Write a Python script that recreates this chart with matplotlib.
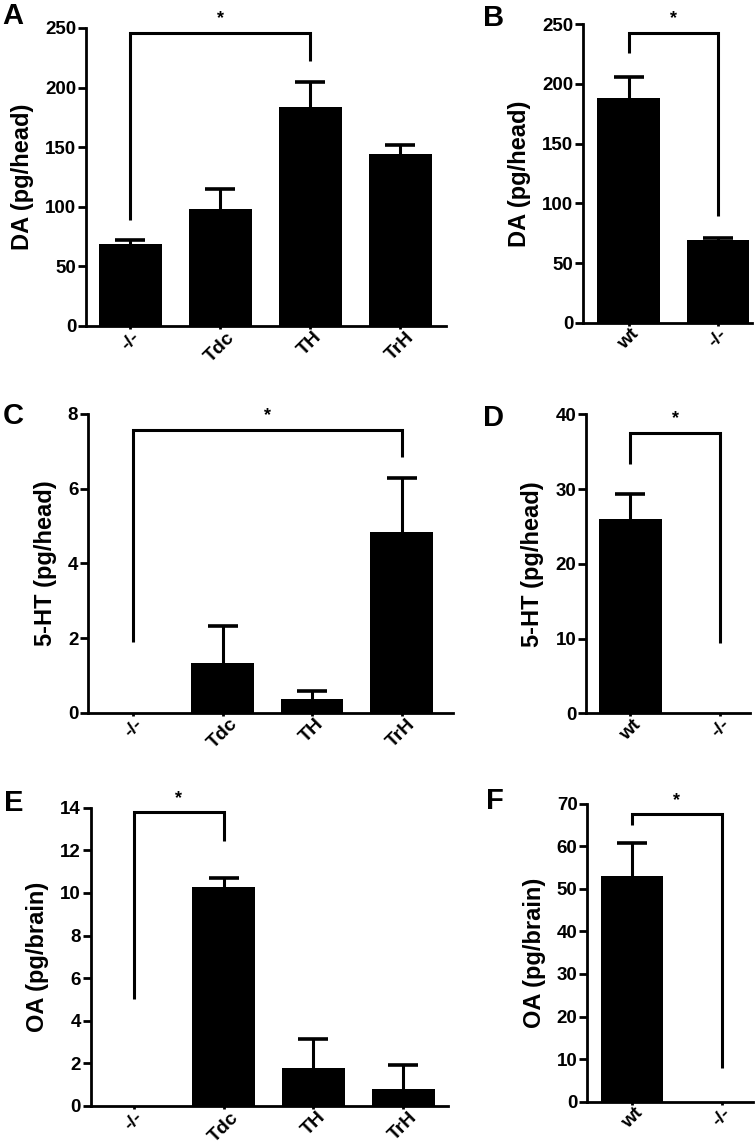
import matplotlib
matplotlib.use("Agg")
import matplotlib.pyplot as plt
import numpy as np

plt.rcParams['font.family'] = ['Liberation Sans', 'DejaVu Sans']
plt.rcParams['font.weight'] = 'bold'
plt.rcParams['axes.labelweight'] = 'bold'

# genotypes
groups4 = ['-/-', 'Tdc', 'TH', 'TrH']
groups2 = ['wt', '-/-']

# A: DA per head, rescue lines
da_groups = [68.5, 98, 184, 144]
da_groups_err = [3.3, 17, 21, 8]
# B: DA per head, wt vs mutant
da_pair = [188, 69]
da_pair_err = [18, 2]
# C: 5-HT per head, rescue lines
ht_groups = [0, 1.32, 0.37, 4.85]
ht_groups_err = [0, 1.01, 0.22, 1.44]
# D: 5-HT per head, wt vs mutant
ht_pair = [26.0, 0]
ht_pair_err = [3.35, 0]
# E: OA per brain, rescue lines
oa_groups = [0, 10.27, 1.77, 0.8]
oa_groups_err = [0, 0.42, 1.39, 1.12]
# F: OA per brain, wt vs mutant
oa_pair = [52.9, 0]
oa_pair_err = [7.9, 0]

# significance brackets: (left idx, right idx, top, left leg end, right leg end)
sig_a = (0, 2, 246, 89, 222)
sig_b = (0, 1, 243, 226, 89)
sig_c = (0, 3, 7.58, 1.9, 6.85)
sig_d = (0, 1, 37.5, 33.3, 9.4)
sig_e = (0, 1, 13.79, 5.02, 12.45)
sig_f = (0, 1, 67.5, 65, 7.8)

W, H = 756, 1148


def panel(fig, rect_px, xlim, labels, vals, errs, ymax, ystep, ylabel, sig, letter, letter_xy):
    x0, x1, ybot, ytop = rect_px
    ax = fig.add_axes([x0 / W, 1 - ybot / H, (x1 - x0) / W, (ybot - ytop) / H])
    x = np.arange(len(labels))
    vals = np.array(vals, dtype=float)
    errs = np.array(errs, dtype=float)
    ax.bar(x, vals, width=0.7, color='black', zorder=2)
    # upper error bars only
    has = errs > 0
    ax.vlines(x[has], vals[has], vals[has] + errs[has], color='black', lw=2.2, zorder=1)
    ax.plot(x[has], vals[has] + errs[has], ls='none', marker='_', ms=21, mew=2.6,
            color='black', zorder=1)
    ax.set_xlim(*xlim)
    ax.set_ylim(0, ymax)
    ax.set_yticks(np.arange(0, ymax + ystep / 2, ystep))
    ax.set_xticks(x)
    ax.set_xticklabels(labels, rotation=45, ha='center', fontsize=14)
    ax.tick_params(axis='y', length=6, width=2, labelsize=13.5, pad=1)
    ax.tick_params(axis='x', length=2, width=2, pad=0)
    for s in ['top', 'right']:
        ax.spines[s].set_visible(False)
    for s in ['left', 'bottom']:
        ax.spines[s].set_linewidth(2)
    ax.set_ylabel(ylabel, fontsize=17, labelpad=8)

    i, j, top, l_end, r_end = sig
    ax.plot([i, i, j, j], [l_end, top, top, r_end], color='black', lw=2.2,
            clip_on=False, solid_capstyle='butt', solid_joinstyle='miter')
    ax.annotate('*', xy=((i + j) / 2, top), xytext=(0, 4), textcoords='offset points',
                ha='center', va='bottom', fontsize=13, annotation_clip=False)
    fig.text(letter_xy[0] / W, 1 - letter_xy[1] / H, letter, fontsize=21,
             fontweight='bold', ha='left', va='top')
    return ax


fig = plt.figure(figsize=(W / 100, H / 100), dpi=100)

panel(fig, (86, 446, 326, 28), (-0.49, 3.51), groups4, da_groups, da_groups_err,
      250, 50, 'DA (pg/head)', sig_a, 'A', (2, 2))
panel(fig, (583, 752, 322.7, 24.3), (-0.51, 1.38), groups2, da_pair, da_pair_err,
      250, 50, 'DA (pg/head)', sig_b, 'B', (483, 4))
panel(fig, (88, 453, 712.7, 414), (-0.507, 3.576), groups4, ht_groups, ht_groups_err,
      8, 2, '5-HT (pg/head)', sig_c, 'C', (3, 402))
panel(fig, (586, 750, 713.3, 414.3), (-0.49, 1.33), groups2, ht_pair, ht_pair_err,
      40, 10, '5-HT (pg/head)', sig_d, 'D', (483, 404))
panel(fig, (90.7, 448, 1106, 807.7), (-0.48, 3.5), groups4, oa_groups, oa_groups_err,
      14, 2, 'OA (pg/brain)', sig_e, 'E', (4, 789))
panel(fig, (587.3, 753, 1101.7, 803.7), (-0.5, 1.35), groups2, oa_pair, oa_pair_err,
      70, 10, 'OA (pg/brain)', sig_f, 'F', (486, 787))

fig.savefig('out.png', dpi=100)
